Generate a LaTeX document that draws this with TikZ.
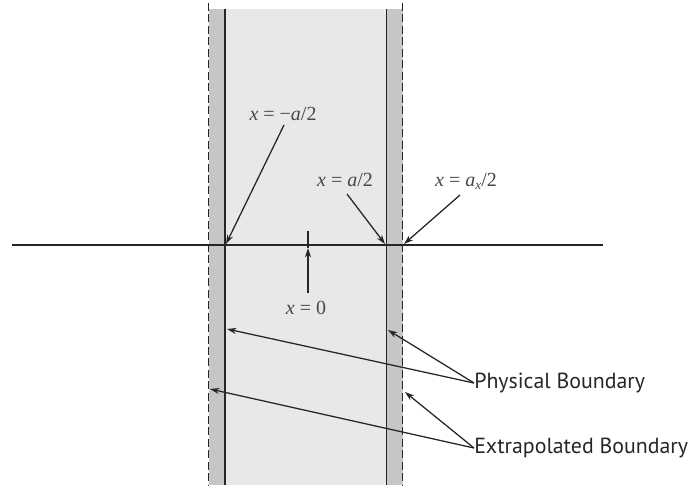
\documentclass[tikz,border=0pt]{standalone}
\usepackage{fontspec}
\setmainfont{Liberation Serif}
\newfontfamily\labelsans{PT Sans}
\usetikzlibrary{arrows.meta}
\definecolor{inner}{HTML}{E8E8E8}
\definecolor{outer}{HTML}{C6C6C6}
\definecolor{ink}{HTML}{262626}
\tikzset{
  bnd/.style={draw=ink, line width=1.2pt},
  extbnd/.style={draw=ink, line width=1.3pt, dash pattern=on 6pt off 2.6pt},
  ptr/.style={draw=ink, line width=0.95pt, -{Stealth[length=7pt,width=4.6pt]}},
  mlabel/.style={font=\fontsize{15}{17}\selectfont, text=ink!85, inner sep=0pt},
  slabel/.style={font=\labelsans\fontsize{16.4}{18}\selectfont, text=ink, inner sep=0pt, anchor=west}
}
\newcommand\releq{\hspace{0.25em}=\hspace{0.25em}}
\begin{document}
\begin{tikzpicture}[x=0.75pt,y=-0.75pt]
\useasboundingbox (0,0) rectangle (691,485);
% shaded slab
\fill[outer] (208.5,9) rectangle (402.5,485);
\fill[inner] (225,9) rectangle (386.5,485);
% boundaries
\draw[extbnd] (208.5,3) -- (208.5,485);
\draw[extbnd] (402.5,3) -- (402.5,485);
\draw[bnd] (225,9) -- (225,485);
\draw[bnd] (386.5,9) -- (386.5,485);
% axis
\draw[draw=ink, line width=1pt] (12,245) -- (603,245);
% labels
\node[mlabel] (lm) at (283,114) {\textit{x}\releq−\textit{a}/2};
\node[mlabel] (lp) at (345,180) {\textit{x}\releq\textit{a}/2};
\node[mlabel] (le) at (466,181) {\textit{x}\releq\textit{a}\raisebox{-0.3ex}{\fontsize{10}{11}\selectfont\itshape x}/2};
\node[mlabel] (l0) at (306,308) {\textit{x}\releq0};
\node[slabel] (pb) at (474,383) {Physical Boundary};
\node[slabel] (eb) at (474,448) {Extrapolated Boundary};
% arrow end points
\coordinate (tm) at (226,244);
\coordinate (tp) at (385,244);
\coordinate (te) at (404,244);
\coordinate (t0) at (308,248);
\coordinate (p1) at (227,329);
\coordinate (p2) at (388,330);
\coordinate (e1) at (210,389);
\coordinate (e2) at (405,392);
\coordinate (o0) at (308,231);
% arrows
\draw[ptr] (284,125) -- (tm);
\draw[ptr] (347,194) -- (tp);
\draw[ptr] (460,195) -- (te);
\draw[draw=ink, line width=0.95pt] (o0) -- (t0);
\draw[ptr] (308,293) -- (t0);
\draw[ptr] (pb.west) -- (p1);
\draw[ptr] (pb.west) -- (p2);
\draw[ptr] (eb.west) -- (e1);
\draw[ptr] (eb.west) -- (e2);
\end{tikzpicture}
\end{document}
